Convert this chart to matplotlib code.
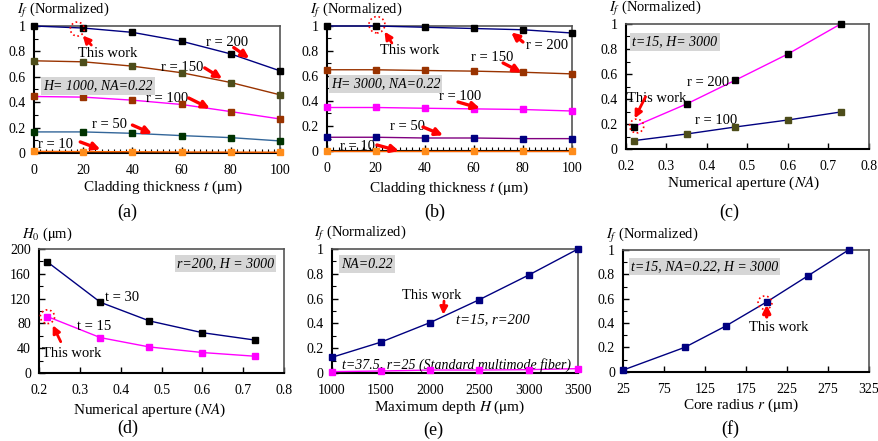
import matplotlib
matplotlib.use('Agg')
import matplotlib.pyplot as plt
from matplotlib.patches import Ellipse
from matplotlib.ticker import AutoMinorLocator, MultipleLocator, FormatStrFormatter

plt.rcParams['font.family'] = ['Liberation Serif', 'DejaVu Serif']
plt.rcParams['mathtext.fontset'] = 'stix'
plt.rcParams['font.size'] = 9

# ---- data ----
t_clad = [0, 20, 40, 60, 80, 100]

# (a) H=1000, NA=0.22
a_r200 = [1.0, 0.984, 0.95, 0.88, 0.78, 0.647]
a_r150 = [0.726, 0.718, 0.684, 0.632, 0.555, 0.458]
a_r100 = [0.445, 0.44, 0.416, 0.382, 0.326, 0.268]
a_r50 = [0.166, 0.166, 0.155, 0.137, 0.121, 0.095]
a_r10 = [0.013, 0.011, 0.01, 0.008, 0.007, 0.006]

# (b) H=3000, NA=0.22
b_r200 = [1.0, 1.0, 0.99, 0.98, 0.97, 0.944]
b_r150 = [0.65, 0.65, 0.644, 0.639, 0.63, 0.617]
b_r100 = [0.348, 0.348, 0.342, 0.337, 0.332, 0.32]
b_r50 = [0.11, 0.11, 0.104, 0.104, 0.099, 0.099]
b_r10 = [0.004, 0.004, 0.004, 0.004, 0.004, 0.004]

# (c) t=15, H=3000
na = [0.22, 0.35, 0.47, 0.6, 0.73]
c_r200 = [0.179, 0.36, 0.55, 0.76, 1.0]
c_r100 = [0.067, 0.12, 0.176, 0.232, 0.296]

# (d) r=200, H=3000
d_t30 = [179, 114, 84, 65, 53]
d_t15 = [91, 57, 42, 33, 27]

# (e) NA=0.22
depth = [1000, 1500, 2000, 2500, 3000, 3500]
e_t15 = [0.126, 0.249, 0.407, 0.592, 0.79, 1.0]
e_t37 = [0.011, 0.016, 0.024, 0.024, 0.027, 0.035]

# (f) t=15, NA=0.22, H=3000
radius = [25, 100, 150, 200, 250, 300]
f_vals = [0.014, 0.2, 0.375, 0.573, 0.786, 1.0]
f_ticks = [25, 75, 125, 175, 225, 275, 325]

NAVY = '#000080'
MAG = '#ff00ff'
BROWN = '#993300'
OLIVE = '#4d4d1a'
ORANGE = '#ff6600'

fig = plt.figure(figsize=(8.79, 4.41), dpi=100)


def setup(ax, xlim, ylim, xmaj, ymaj, yminor=2, xminor=None):
    ax.set_xlim(*xlim)
    ax.set_ylim(*ylim)
    ax.xaxis.set_major_locator(MultipleLocator(xmaj))
    ax.yaxis.set_major_locator(MultipleLocator(ymaj))
    ax.xaxis.set_major_formatter(FormatStrFormatter('%g'))
    ax.yaxis.set_major_formatter(FormatStrFormatter('%g'))
    ax.yaxis.set_minor_locator(AutoMinorLocator(yminor))
    if xminor:
        ax.xaxis.set_minor_locator(AutoMinorLocator(xminor))
    ax.tick_params(which='both', direction='in', top=False, right=False)
    ax.tick_params(which='major', length=4, width=1)
    ax.tick_params(which='minor', length=3, width=0.8)
    ax.tick_params(axis='x', pad=8, labelsize=10)
    ax.tick_params(axis='y', pad=6, labelsize=10)
    for s in ['left', 'bottom']:
        ax.spines[s].set_color('black')
        ax.spines[s].set_linewidth(1.5)
    for s in ['top', 'right']:
        ax.spines[s].set_color('#555555')
        ax.spines[s].set_linewidth(1.2)


def series(ax, x, y, lc, mc):
    ax.plot(x, y, '-', color=lc, lw=1.0, zorder=3, clip_on=False)
    ax.plot(x, y, 's', color=mc, ms=5, zorder=4, clip_on=False)


def arrow(ax, x0, y0, x1, y1, lw=2.4):
    ax.annotate('', xy=(x1, y1), xytext=(x0, y0),
                arrowprops=dict(arrowstyle='-|>', color='red', lw=lw,
                                mutation_scale=11, shrinkA=0, shrinkB=0),
                annotation_clip=False, zorder=6)


def circle(ax, x, y, w, h):
    e = Ellipse((x, y), w, h, fill=False, ls=':', ec='red', lw=1.2,
                clip_on=False, zorder=6)
    ax.add_patch(e)


def boxtext(ax, x, y, s):
    ax.text(x, y, s, ha='center', va='center', fontsize=10, style='italic',
            bbox=dict(boxstyle='square,pad=0.15', fc='#d6d6d6', ec='none'),
            zorder=5)


def ylab(ax, s):
    ax.text(-0.07, 1.045, s, transform=ax.transAxes, ha='left', va='bottom',
            fontsize=10.5)


# ---------------- (a) ----------------
ax = fig.add_axes([34 / 879, 1 - 153 / 441, 246 / 879, 127 / 441])
setup(ax, (0, 100), (0, 1), 20, 0.2, xminor=8)
series(ax, t_clad, a_r200, NAVY, 'black')
series(ax, t_clad, a_r150, BROWN, OLIVE)
series(ax, t_clad, a_r100, MAG, BROWN)
series(ax, t_clad, a_r50, '#336699', '#003300')
series(ax, t_clad, a_r10, ORANGE, '#ff8c1a')
ax.text(78.4, 0.874, 'r = 200', ha='center', va='center', fontsize=10.5)
arrow(ax, 81.2, 0.83, 87.5, 0.745)
ax.text(60.4, 0.677, 'r = 150', ha='center', va='center', fontsize=10.5)
arrow(ax, 69.4, 0.67, 76.5, 0.585)
ax.text(54.3, 0.433, 'r = 100', ha='center', va='center', fontsize=10.5)
arrow(ax, 62.9, 0.433, 71.5, 0.35)
ax.text(30.6, 0.228, 'r = 50', ha='center', va='center', fontsize=10.5)
arrow(ax, 40, 0.22, 48, 0.152)
ax.text(8.6, 0.07, 'r = 10', ha='center', va='center', fontsize=10.5)
arrow(ax, 18.8, 0.087, 27, 0.028)
ax.text(29.8, 0.787, 'This work', ha='center', va='center', fontsize=10.5)
arrow(ax, 23.3, 0.85, 19.8, 0.925, lw=2)
circle(ax, 17.6, 0.976, 5.7, 0.11)
boxtext(ax, 26, 0.528, 'H= 1000, NA=0.22')
ylab(ax, r'$I_f$ (Normalized)')
fig.text(163 / 879, 1 - 187 / 441, r'Cladding thickness $t$ ($\mathrm{\mu}$m)',
         ha='center', va='center', fontsize=11)
fig.text(127 / 879, 1 - 212 / 441, '(a)', ha='center', va='center', fontsize=13)

# ---------------- (b) ----------------
ax = fig.add_axes([326.7 / 879, 1 - 151 / 441, 245 / 879, 125 / 441])
setup(ax, (0, 100), (0, 1), 20, 0.2, xminor=8)
series(ax, t_clad, b_r200, NAVY, 'black')
series(ax, t_clad, b_r150, BROWN, BROWN)
series(ax, t_clad, b_r100, MAG, MAG)
series(ax, t_clad, b_r50, '#800080', NAVY)
series(ax, t_clad, b_r10, ORANGE, '#ff8c1a')
ax.text(89.9, 0.84, 'r = 200', ha='center', va='center', fontsize=10.5)
arrow(ax, 80.1, 0.872, 75.3, 0.948)
ax.text(67.4, 0.744, 'r = 150', ha='center', va='center', fontsize=10.5)
arrow(ax, 72, 0.704, 79.5, 0.628)
ax.text(54.4, 0.44, 'r = 100', ha='center', va='center', fontsize=10.5)
arrow(ax, 53.6, 0.392, 62.5, 0.342)
ax.text(32.8, 0.2, 'r = 50', ha='center', va='center', fontsize=10.5)
arrow(ax, 39.3, 0.192, 47.5, 0.125)
ax.text(12.4, 0.032, 'r = 10', ha='center', va='center', fontsize=10.5)
arrow(ax, 20.5, 0.048, 29.5, 0.0)
ax.text(34, 0.8, 'This work', ha='center', va='center', fontsize=10.5)
arrow(ax, 26.6, 0.864, 23.6, 0.955, lw=2)
circle(ax, 20.5, 1.01, 6.5, 0.13)
boxtext(ax, 24, 0.536, 'H= 3000, NA=0.22')
ylab(ax, r'$I_f$ (Normalized)')
fig.text(449 / 879, 1 - 188 / 441, r'Cladding thickness $t$ ($\mathrm{\mu}$m)',
         ha='center', va='center', fontsize=11)
fig.text(435 / 879, 1 - 212 / 441, '(b)', ha='center', va='center', fontsize=13)

# ---------------- (c) ----------------
ax = fig.add_axes([625.7 / 879, 1 - 149 / 441, 243.3 / 879, 125 / 441])
setup(ax, (0.2, 0.8), (0, 1), 0.1, 0.2)
series(ax, na, c_r200, MAG, 'black')
series(ax, na, c_r100, NAVY, OLIVE)
boxtext(ax, 0.3216, 0.856, 't=15, H= 3000')
ax.text(0.403, 0.528, 'r = 200', ha='center', va='center', fontsize=10.5)
ax.text(0.423, 0.232, 'r = 100', ha='center', va='center', fontsize=10.5)
ax.text(0.277, 0.408, 'This work', ha='center', va='center', fontsize=10.5)
arrow(ax, 0.249, 0.418, 0.222, 0.245, lw=2)
circle(ax, 0.227, 0.184, 0.035, 0.11)
ylab(ax, r'$I_f$ (Normalized)')
fig.text(744 / 879, 1 - 183 / 441, r'Numerical aperture ($NA$)',
         ha='center', va='center', fontsize=11)
fig.text(729 / 879, 1 - 212 / 441, '(c)', ha='center', va='center', fontsize=13)

# ---------------- (d) ----------------
ax = fig.add_axes([39.3 / 879, 1 - 373 / 441, 244.7 / 879, 124 / 441])
setup(ax, (0.2, 0.8), (0, 200), 0.1, 40)
series(ax, na, d_t30, NAVY, 'black')
series(ax, na, d_t15, MAG, MAG)
boxtext(ax, 0.6566, 176.6, 'r=200, H = 3000')
ax.text(0.403, 121, 't = 30', ha='center', va='center', fontsize=10.5)
ax.text(0.334, 75.8, 't = 15', ha='center', va='center', fontsize=10.5)
ax.text(0.28, 32, 'This work', ha='center', va='center', fontsize=10.5)
arrow(ax, 0.2525, 50.5, 0.233, 77, lw=2)
circle(ax, 0.22, 90.8, 0.035, 22)
ax.text(-0.07, 1.045, r'$H_0$ ($\mathrm{\mu}$m)', transform=ax.transAxes,
        ha='left', va='bottom', fontsize=10.5)
fig.text(150 / 879, 1 - 410 / 441, r'Numerical aperture ($NA$)',
         ha='center', va='center', fontsize=11)
fig.text(128 / 879, 1 - 428 / 441, '(d)', ha='center', va='center', fontsize=13)

# ---------------- (e) ----------------
ax = fig.add_axes([331.7 / 879, 1 - 373 / 441, 246.3 / 879, 124 / 441])
setup(ax, (1000, 3500), (0, 1), 500, 0.2)
series(ax, depth, e_t15, NAVY, NAVY)
series(ax, depth, e_t37, MAG, MAG)
boxtext(ax, 1358, 0.879, 'NA=0.22')
ax.text(2018, 0.621, 'This work', ha='center', va='center', fontsize=10.5)
arrow(ax, 2140, 0.58, 2133, 0.47, lw=2)
ax.text(2637, 0.427, 't=15, r=200', ha='center', va='center', fontsize=10.5,
        style='italic')
ax.text(2265, 0.065, 't=37.5, r=25 (Standard multimode fiber)', ha='center',
        va='center', fontsize=10, style='italic')
ylab(ax, r'$I_f$ (Normalized)')
fig.text(450 / 879, 1 - 407 / 441, r'Maximum depth $H$ ($\mathrm{\mu}$m)',
         ha='center', va='center', fontsize=11)
fig.text(433 / 879, 1 - 430 / 441, '(e)', ha='center', va='center', fontsize=13)

# ---------------- (f) ----------------
ax = fig.add_axes([623.3 / 879, 1 - 371.7 / 441, 245.7 / 879, 121.7 / 441])
setup(ax, (25, 325), (0, 1), 50, 0.2)
ax.set_xticks(f_ticks)
series(ax, radius, f_vals, NAVY, NAVY)
boxtext(ax, 124.4, 0.863, 't=15, NA=0.22, H = 3000')
ax.text(215, 0.367, 'This work', ha='center', va='center', fontsize=10.5)
arrow(ax, 200.1, 0.45, 200.1, 0.55, lw=2.4)
circle(ax, 198, 0.567, 17, 0.11)
ylab(ax, r'$I_f$ (Normalized)')
fig.text(741 / 879, 1 - 405 / 441, r'Core radius $r$ ($\mathrm{\mu}$m)',
         ha='center', va='center', fontsize=11)
fig.text(730 / 879, 1 - 429 / 441, '(f)', ha='center', va='center', fontsize=13)

fig.savefig('out.png', dpi=100)
